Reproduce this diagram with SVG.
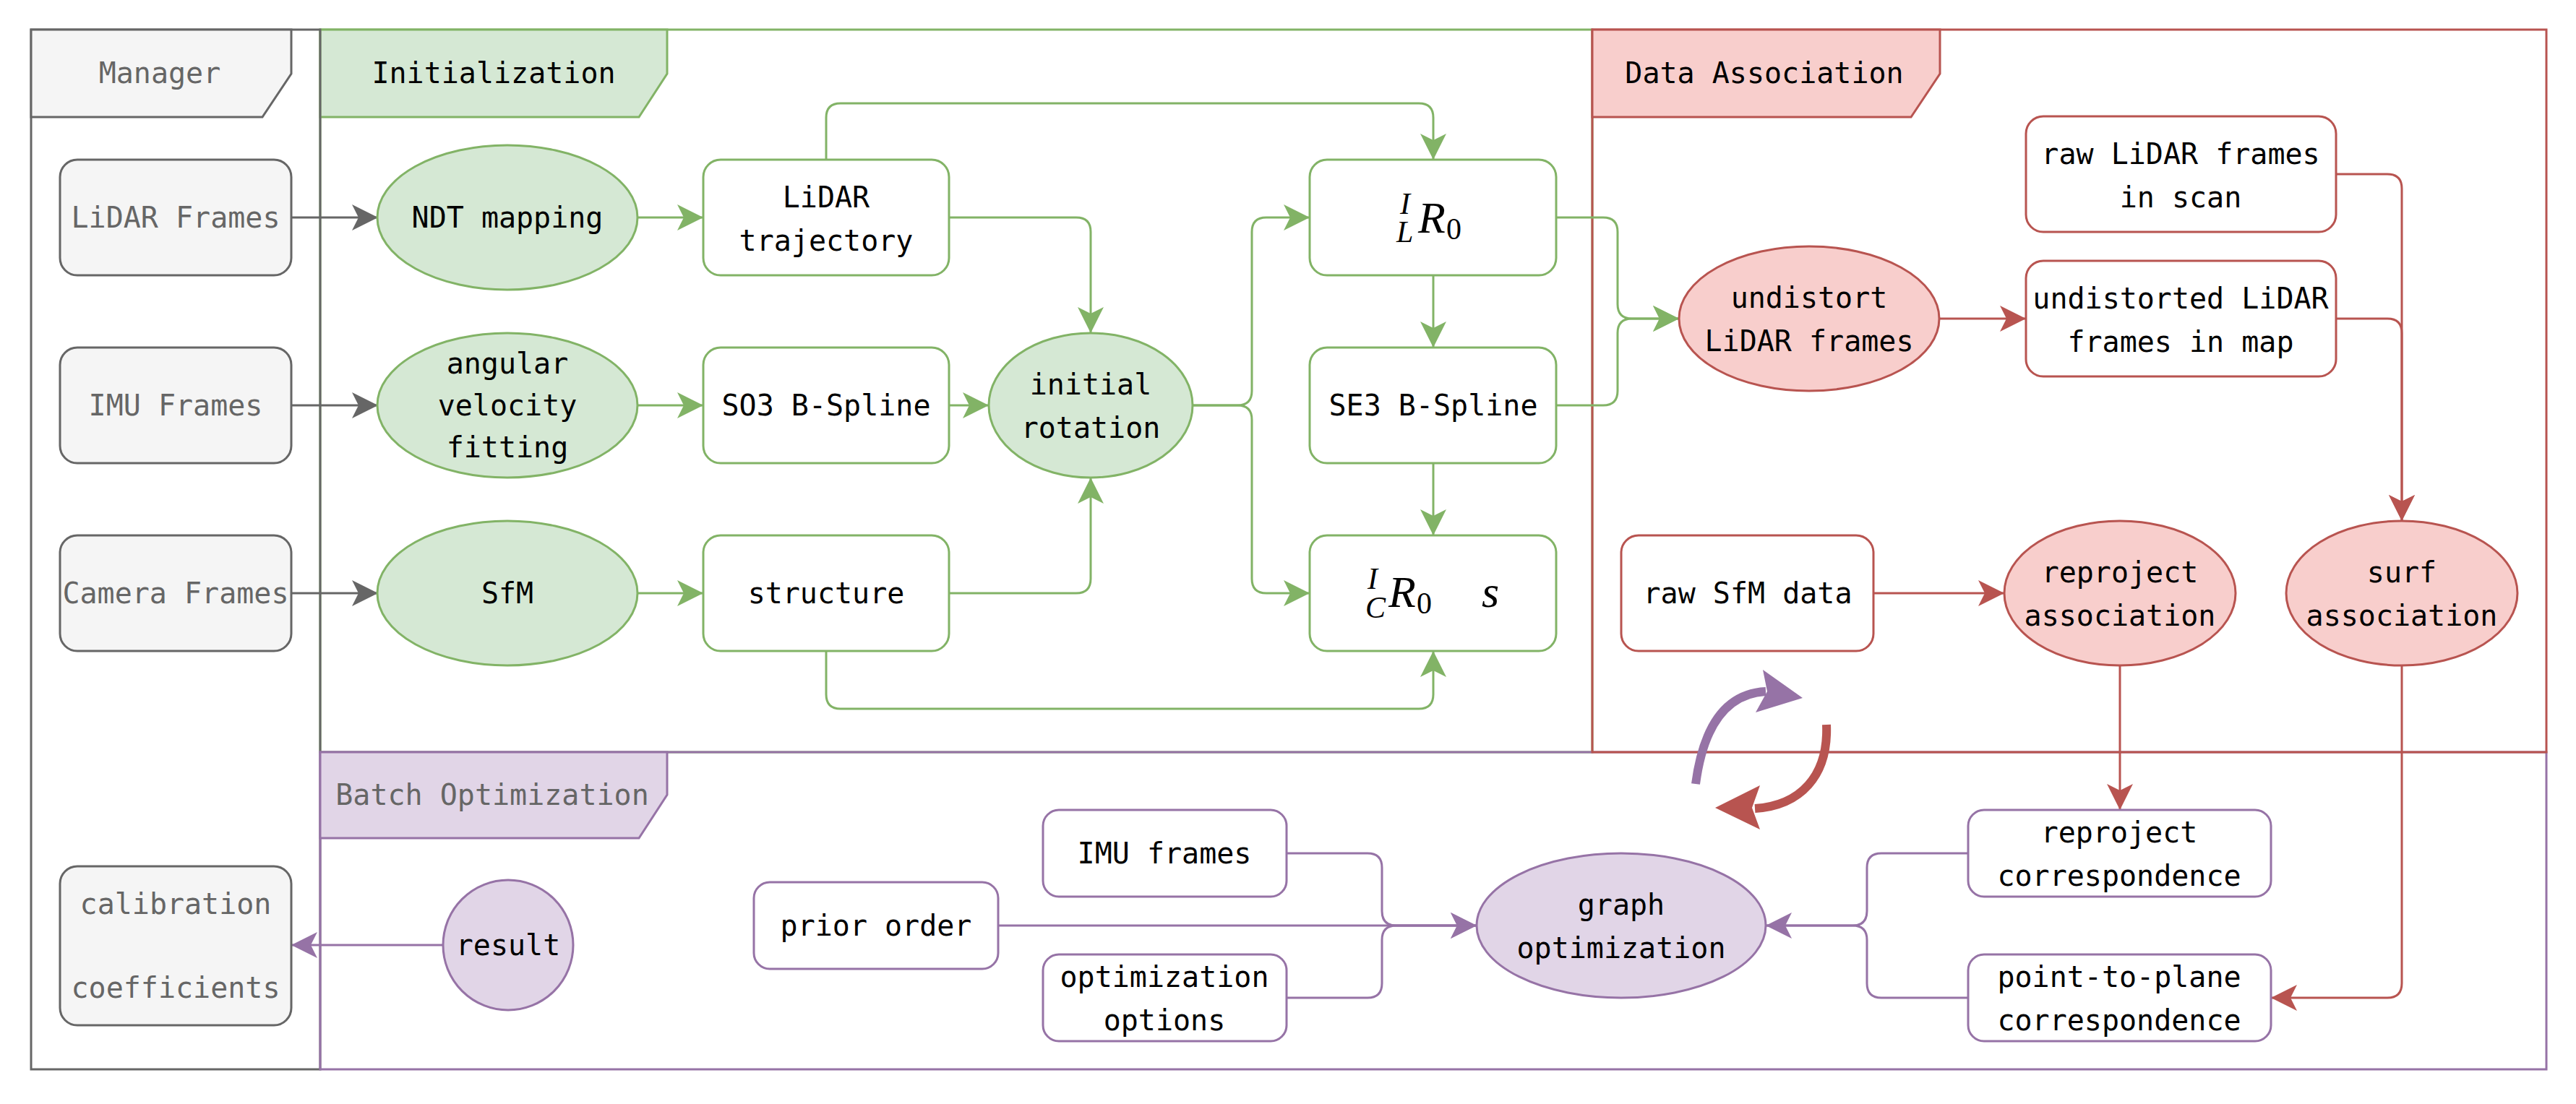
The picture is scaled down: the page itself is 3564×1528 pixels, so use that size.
<svg xmlns="http://www.w3.org/2000/svg" width="3564" height="1528" viewBox="0 0 3564 1528">
<style>
.t{font-family:"DejaVu Sans Mono","Liberation Mono",monospace;font-size:40px;text-anchor:middle;fill:#000}
.tg{fill:#666666}
.m{font-family:"Liberation Serif","DejaVu Serif",serif;font-style:italic;fill:#000}
.mu{font-family:"Liberation Serif","DejaVu Serif",serif;fill:#000}
.lane{fill:none;stroke-width:3}
.gr{stroke:#666666}
.gn{stroke:#82b366}
.rd{stroke:#b85450}
.pu{stroke:#9673a6}
.fgr{fill:#f5f5f5;stroke:#666666;stroke-width:3}
.fgn{fill:#d5e8d4;stroke:#82b366;stroke-width:3}
.frd{fill:#f8cecc;stroke:#b85450;stroke-width:3}
.fpu{fill:#e1d5e7;stroke:#9673a6;stroke-width:3}
.wgn{fill:#ffffff;stroke:#82b366;stroke-width:3}
.wrd{fill:#ffffff;stroke:#b85450;stroke-width:3}
.wpu{fill:#ffffff;stroke:#9673a6;stroke-width:3}
.c{fill:none;stroke-width:3}
</style>
<defs>
<marker id="ag" viewBox="0 0 36 36" refX="36" refY="18" markerWidth="36" markerHeight="36" markerUnits="userSpaceOnUse" orient="auto"><path d="M0,0 L36,18 L0,36 L9,18 Z" fill="#666666"/></marker>
<marker id="an" viewBox="0 0 36 36" refX="36" refY="18" markerWidth="36" markerHeight="36" markerUnits="userSpaceOnUse" orient="auto"><path d="M0,0 L36,18 L0,36 L9,18 Z" fill="#82b366"/></marker>
<marker id="ar" viewBox="0 0 36 36" refX="36" refY="18" markerWidth="36" markerHeight="36" markerUnits="userSpaceOnUse" orient="auto"><path d="M0,0 L36,18 L0,36 L9,18 Z" fill="#b85450"/></marker>
<marker id="ap" viewBox="0 0 36 36" refX="36" refY="18" markerWidth="36" markerHeight="36" markerUnits="userSpaceOnUse" orient="auto"><path d="M0,0 L36,18 L0,36 L9,18 Z" fill="#9673a6"/></marker>
</defs>
<rect width="3564" height="1528" fill="#ffffff"/>

<g id="lane-initialization">
<rect class="lane gn" x="443" y="41" width="1760" height="1000"/>
<polygon class="fgn" points="443,41 923,41 923,102 884,162 443,162"/>
<text class="t" x="683" y="115">Initialization</text>
</g>
<g id="lane-manager">
<rect class="lane gr" x="43" y="41" width="400" height="1439"/>
<polygon class="fgr" points="43,41 403,41 403,102 363,162 43,162"/>
<text class="t tg" x="221" y="115">Manager</text>
</g>
<g id="lane-batch">
<rect class="lane pu" x="443" y="1041" width="3080" height="439"/>
<polygon class="fpu" points="443,1041 923,1041 923,1100 884,1160 443,1160"/>
<text class="t tg" x="681" y="1114">Batch Optimization</text>
</g>
<g id="lane-data-association">
<rect class="lane rd" x="2203" y="41" width="1320" height="1000"/>
<polygon class="frd" points="2203,41 2684,41 2684,102 2644,162 2203,162"/>
<text class="t" x="2441" y="115">Data Association</text>
</g>

<g id="connectors">
<path class="c gr" d="M403,301 H523" marker-end="url(#ag)"/>
<path class="c gr" d="M403,561 H523" marker-end="url(#ag)"/>
<path class="c gr" d="M403,821 H523" marker-end="url(#ag)"/>
<path class="c gn" d="M882,301 H973" marker-end="url(#an)"/>
<path class="c gn" d="M882,561 H973" marker-end="url(#an)"/>
<path class="c gn" d="M882,821 H973" marker-end="url(#an)"/>
<path class="c gn" d="M1143,221 V163 Q1143,143 1163,143 H1963 Q1983,143 1983,163 V221" marker-end="url(#an)"/>
<path class="c gn" d="M1313,301 H1489 Q1509,301 1509,321 V461" marker-end="url(#an)"/>
<path class="c gn" d="M1313,561 H1368" marker-end="url(#an)"/>
<path class="c gn" d="M1313,821 H1489 Q1509,821 1509,801 V661" marker-end="url(#an)"/>
<path class="c gn" d="M1143,901 V961 Q1143,981 1163,981 H1963 Q1983,981 1983,961 V901" marker-end="url(#an)"/>
<path class="c gn" d="M1650,561 H1712 Q1732,561 1732,541 V321 Q1732,301 1752,301 H1812" marker-end="url(#an)"/>
<path class="c gn" d="M1650,561 H1712 Q1732,561 1732,581 V801 Q1732,821 1752,821 H1812" marker-end="url(#an)"/>
<path class="c gn" d="M1983,381 V481" marker-end="url(#an)"/>
<path class="c gn" d="M1983,641 V741" marker-end="url(#an)"/>
<path class="c gn" d="M2153,301 H2218 Q2238,301 2238,321 V421 Q2238,441 2258,441 H2323" marker-end="url(#an)"/>
<path class="c gn" d="M2153,561 H2218 Q2238,561 2238,541 V461 Q2238,441 2258,441 H2323" marker-end="url(#an)"/>
<path class="c rd" d="M2683,441 H2803" marker-end="url(#ar)"/>
<path class="c rd" d="M3232,241 H3303 Q3323,241 3323,261 V721" marker-end="url(#ar)"/>
<path class="c rd" d="M3232,441 H3303 Q3323,441 3323,461 V721" marker-end="url(#ar)"/>
<path class="c rd" d="M2592,821 H2773" marker-end="url(#ar)"/>
<path class="c rd" d="M2933,921 V1121" marker-end="url(#ar)"/>
<path class="c rd" d="M3323,921 V1361 Q3323,1381 3303,1381 H3142" marker-end="url(#ar)"/>
<path class="c pu" d="M2723,1181 H2603 Q2583,1181 2583,1201 V1261 Q2583,1281 2563,1281 H2443" marker-end="url(#ap)"/>
<path class="c pu" d="M2723,1381 H2603 Q2583,1381 2583,1361 V1301 Q2583,1281 2563,1281 H2443"/>
<path class="c pu" d="M1780,1181 H1892 Q1912,1181 1912,1201 V1261 Q1912,1281 1932,1281 H2043" marker-end="url(#ap)"/>
<path class="c pu" d="M1381,1281 H2043" marker-end="url(#ap)"/>
<path class="c pu" d="M1780,1381 H1892 Q1912,1381 1912,1361 V1301 Q1912,1281 1932,1281 H2043"/>
<path class="c pu" d="M613,1308 H403" marker-end="url(#ap)"/>
<path fill="none" stroke="#9673a6" stroke-width="12" d="M2346,1085 C2356,1010 2385,960 2443,957"/>
<polygon fill="#9673a6" points="2494,966 2439,927 2445,957 2429,986"/>
<path fill="none" stroke="#b85450" stroke-width="12" d="M2527,1003 C2530,1075 2490,1115 2428,1119"/>
<polygon fill="#b85450" points="2373,1118 2435,1087 2424,1118 2435,1148"/>
</g>

<g id="n-lidar-frames"><rect class="fgr" x="83" y="221" width="320" height="160" rx="24"/><text class="t tg" x="243" y="315">LiDAR Frames</text></g>
<g id="n-imu-frames"><rect class="fgr" x="83" y="481" width="320" height="160" rx="24"/><text class="t tg" x="243" y="575">IMU Frames</text></g>
<g id="n-camera-frames"><rect class="fgr" x="83" y="741" width="320" height="160" rx="24"/><text class="t tg" x="243" y="835">Camera Frames</text></g>
<g id="n-calibration"><rect class="fgr" x="83" y="1199" width="320" height="220" rx="24"/><text class="t tg" x="243" y="1265">calibration</text><text class="t tg" x="243" y="1381">coefficients</text></g>

<g id="n-ndt"><ellipse class="fgn" cx="702" cy="301" rx="180" ry="100"/><text class="t" x="702" y="315">NDT mapping</text></g>
<g id="n-angular"><ellipse class="fgn" cx="702" cy="561" rx="180" ry="100"/><text class="t" x="702" y="517">angular</text><text class="t" x="702" y="575">velocity</text><text class="t" x="702" y="633">fitting</text></g>
<g id="n-sfm"><ellipse class="fgn" cx="702" cy="821" rx="180" ry="100"/><text class="t" x="702" y="835">SfM</text></g>
<g id="n-lidar-traj"><rect class="wgn" x="973" y="221" width="340" height="160" rx="24"/><text class="t" x="1143" y="287">LiDAR</text><text class="t" x="1143" y="347">trajectory</text></g>
<g id="n-so3"><rect class="wgn" x="973" y="481" width="340" height="160" rx="24"/><text class="t" x="1143" y="575">SO3 B-Spline</text></g>
<g id="n-structure"><rect class="wgn" x="973" y="741" width="340" height="160" rx="24"/><text class="t" x="1143" y="835">structure</text></g>
<g id="n-initial-rotation"><ellipse class="fgn" cx="1509" cy="561" rx="141" ry="100"/><text class="t" x="1509" y="546">initial</text><text class="t" x="1509" y="606">rotation</text></g>
<g id="n-ILR0"><rect class="wgn" x="1812" y="221" width="341" height="160" rx="24"/>
<text class="m" x="1937" y="296" font-size="42">I</text>
<text class="m" x="1932" y="335" font-size="42">L</text>
<text class="m" x="1962" y="322" font-size="62">R</text>
<text class="mu" x="2001" y="331" font-size="42">0</text></g>
<g id="n-se3"><rect class="wgn" x="1812" y="481" width="341" height="160" rx="24"/><text class="t" x="1983" y="575">SE3 B-Spline</text></g>
<g id="n-ICR0s"><rect class="wgn" x="1812" y="741" width="341" height="160" rx="24"/>
<text class="m" x="1892" y="815" font-size="42">I</text>
<text class="m" x="1889" y="855" font-size="42">C</text>
<text class="m" x="1921" y="840" font-size="62">R</text>
<text class="mu" x="1960" y="849" font-size="42">0</text>
<text class="m" x="2050" y="840" font-size="62">s</text></g>

<g id="n-undistort"><ellipse class="frd" cx="2503" cy="441" rx="180" ry="100"/><text class="t" x="2503" y="426">undistort</text><text class="t" x="2503" y="486">LiDAR frames</text></g>
<g id="n-raw-lidar"><rect class="wrd" x="2803" y="161" width="429" height="160" rx="24"/><text class="t" x="3017" y="227">raw LiDAR frames</text><text class="t" x="3017" y="287">in scan</text></g>
<g id="n-undistorted"><rect class="wrd" x="2803" y="361" width="429" height="160" rx="24"/><text class="t" x="3017" y="427">undistorted LiDAR</text><text class="t" x="3017" y="487">frames in map</text></g>
<g id="n-raw-sfm"><rect class="wrd" x="2243" y="741" width="349" height="160" rx="24"/><text class="t" x="2418" y="835">raw SfM data</text></g>
<g id="n-reproject-assoc"><ellipse class="frd" cx="2933" cy="821" rx="160" ry="100"/><text class="t" x="2933" y="806">reproject</text><text class="t" x="2933" y="866">association</text></g>
<g id="n-surf-assoc"><ellipse class="frd" cx="3323" cy="821" rx="160" ry="100"/><text class="t" x="3323" y="806">surf</text><text class="t" x="3323" y="866">association</text></g>

<g id="n-result"><ellipse class="fpu" cx="703" cy="1308" rx="90" ry="90"/><text class="t" x="703" y="1322">result</text></g>
<g id="n-prior-order"><rect class="wpu" x="1043" y="1221" width="338" height="120" rx="22"/><text class="t" x="1212" y="1295">prior order</text></g>
<g id="n-imu-frames-b"><rect class="wpu" x="1443" y="1121" width="337" height="120" rx="22"/><text class="t" x="1611" y="1195">IMU frames</text></g>
<g id="n-opt-options"><rect class="wpu" x="1443" y="1321" width="337" height="120" rx="22"/><text class="t" x="1611" y="1366">optimization</text><text class="t" x="1611" y="1426">options</text></g>
<g id="n-graph-opt"><ellipse class="fpu" cx="2243" cy="1281" rx="200" ry="100"/><text class="t" x="2243" y="1266">graph</text><text class="t" x="2243" y="1326">optimization</text></g>
<g id="n-reproject-corr"><rect class="wpu" x="2723" y="1121" width="419" height="120" rx="22"/><text class="t" x="2932" y="1166">reproject</text><text class="t" x="2932" y="1226">correspondence</text></g>
<g id="n-p2p-corr"><rect class="wpu" x="2723" y="1321" width="419" height="120" rx="22"/><text class="t" x="2932" y="1366">point-to-plane</text><text class="t" x="2932" y="1426">correspondence</text></g>
</svg>
